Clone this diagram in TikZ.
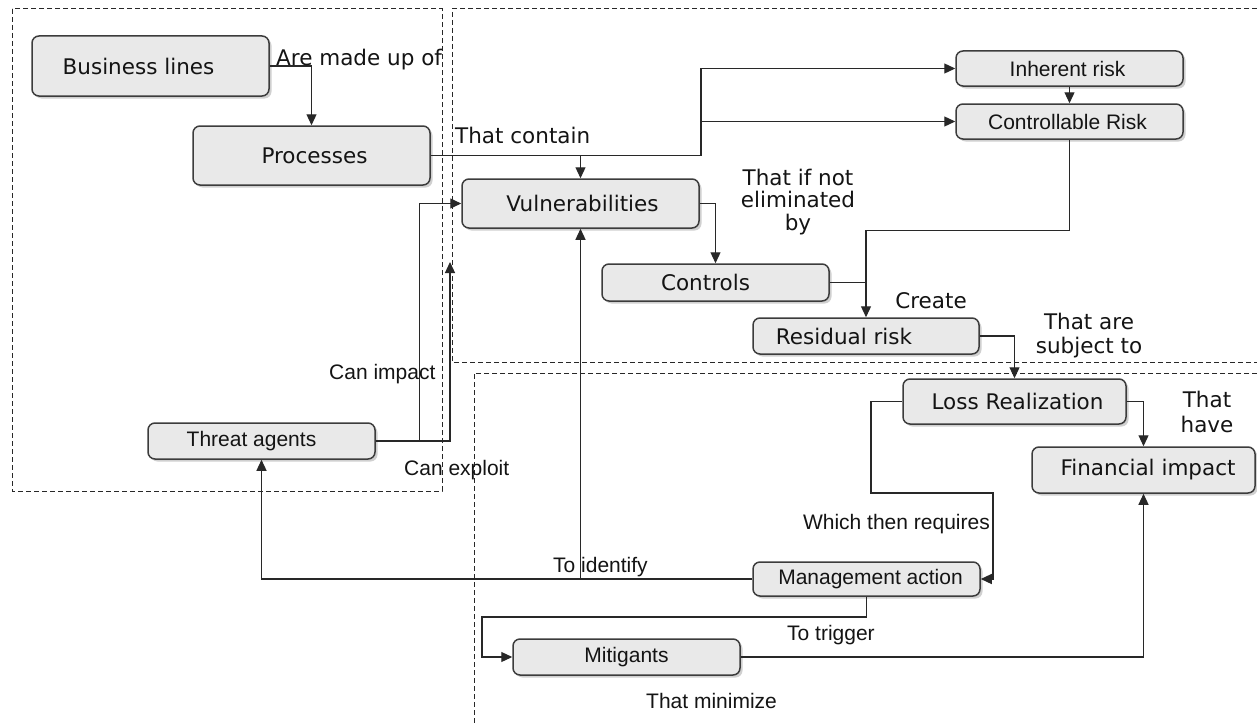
\documentclass[tikz,border=0pt]{standalone}
\usepackage{fontspec}
\setmainfont{DejaVu Sans}
\newfontfamily\thinface{Liberation Sans}
\usetikzlibrary{arrows.meta,shadows}

\definecolor{boxfill}{RGB}{233,233,233}
\definecolor{boxline}{RGB}{60,60,60}
\definecolor{wirec}{RGB}{40,40,40}
\definecolor{ink}{RGB}{20,20,20}

\tikzset{
  box/.style={draw=boxline, line width=1.5pt, fill=boxfill, rounded corners=7pt,
    drop shadow={shadow xshift=2.5pt, shadow yshift=-2.5pt, fill=black!30, opacity=0.6},
    inner sep=0pt},
  heavy/.style={font=\fontsize{21.5}{22.5}\selectfont},
  light/.style={font=\thinface\fontsize{21}{24}\selectfont},
  tag/.style={text=ink, inner sep=0pt},
  wire/.style={draw=wirec, line width=1.2pt},
  arr/.style={wire, -{Triangle[length=11pt,width=10pt]}},
  zone/.style={draw=wirec, line width=1pt, dash pattern=on 5pt off 3pt},
}

\begin{document}
\begin{tikzpicture}[x=1pt, y=-1pt]
\useasboundingbox (0,0) rectangle (1257,725);
\fill[white] (0,0) rectangle (1257,725);

% dashed zones
\begin{scope}
  \clip (0,0) rectangle (1257,725);
  \draw[zone] (12,9) rectangle (442,491);
  \draw[zone] (1265,9) -- (452,9) -- (452,362) -- (1265,362);
  \draw[zone] (1265,373) -- (474,373) -- (474,735);
\end{scope}

% boxes
\node[box, minimum width=237pt, minimum height=60pt,
      label={[tag,heavy,xshift=-12pt]center:Business lines}] (bl) at (150.5,66) {};
\node[box, minimum width=237pt, minimum height=59pt,
      label={[tag,heavy,xshift=3pt]center:Processes}] (pr) at (311.5,155.5) {};
\node[box, minimum width=237pt, minimum height=49pt,
      label={[tag,heavy,xshift=2pt]center:Vulnerabilities}] (vu) at (580.5,203.5) {};
\node[box, minimum width=227pt, minimum height=35pt,
      label={[tag,light,xshift=-2pt]center:Inherent risk}] (ir) at (1069.5,68.5) {};
\node[box, minimum width=227pt, minimum height=35pt,
      label={[tag,light,xshift=-2pt]center:Controllable Risk}] (cr) at (1069.5,121.5) {};
\node[box, minimum width=227pt, minimum height=37pt,
      label={[tag,heavy,xshift=-10pt]center:Controls}] (co) at (715.5,282.5) {};
\node[box, minimum width=226pt, minimum height=36pt,
      label={[tag,heavy,xshift=-22pt]center:Residual risk}] (rr) at (866,336) {};
\node[box, minimum width=223pt, minimum height=45pt,
      label={[tag,heavy,xshift=3pt]center:Loss Realization}] (lr) at (1014.5,401.5) {};
\node[box, minimum width=223pt, minimum height=46pt,
      label={[tag,heavy,xshift=4.5pt]center:Financial impact}] (fi) at (1143.5,470) {};
\node[box, minimum width=227pt, minimum height=36pt,
      label={[tag,light,xshift=-10pt]center:Threat agents}] (ta) at (261.5,441) {};
\node[box, minimum width=227pt, minimum height=34pt,
      label={[tag,light,xshift=4pt]center:Management action}] (ma) at (866.5,579) {};
\node[box, minimum width=227pt, minimum height=36pt,
      label={[tag,light]center:Mitigants}] (mi) at (626.5,657) {};

% connectors
\coordinate (fork) at (701,155.5);
\coordinate (exploit) at (450,262);

\draw[arr] (bl.east) -| (pr.north);
\draw[arr] (pr.east) -| (vu.north);
\draw[arr] (pr.east) -- (fork) |- (ir.west);
\draw[arr] (fork |- cr.west) -- (cr.west);
\draw[arr] (ir.south) -- (cr.north);
\draw[arr] (cr.south) -- ++(0,91) -| (rr.north);
\draw[wire] (co.east) -- (rr.north |- co.east);
\draw[arr] (vu.east) -| (co.north);
\draw[arr] (rr.east) -| (lr.north);
\draw[arr] (lr.east) -| (fi.north);
\draw[arr] (lr.west) -| (871,493) -| (993,579) -- (ma.east);
\draw[arr] (ma.west) -| (ta.south);
\draw[arr] (vu.south |- ma.west) -- (vu.south);
\draw[arr] (ma.south) |- (482,617) |- (mi.west);
\draw[arr] (mi.east) -| (fi.south);
\draw[arr] (ta.east) -- ++(44,0) |- (vu.west);
\draw[arr] (ta.east) -| (exploit);

% connector texts
\node[tag,heavy,anchor=base west] (tMade) at (276,65) {Are made up of};
\node[tag,heavy,anchor=base west] (tContain) at (455,143) {That contain};
\node[tag,heavy,align=center] (tElim) at (798,202) {That if not\\eliminated\\by};
\node[tag,heavy] (tCreate) at (931,300.5) {Create};
\node[tag,heavy,align=center,font=\fontsize{21.5}{24}\selectfont] (tSubj) at (1089,336) {That are\\subject to};
\node[tag,heavy,align=center,font=\fontsize{21.5}{25}\selectfont] (tHave) at (1207,411.5) {That\\have};
\node[tag,light,anchor=base west] (tImpact) at (329,379) {Can impact};
\node[tag,light,anchor=base west] (tExploit) at (404,475) {Can exploit};
\node[tag,light,anchor=base west] (tIdent) at (553,572) {To identify};
\node[tag,light,anchor=base east] (tReq) at (990,529) {Which then requires};
\node[tag,light,anchor=base west] (tTrig) at (787,640) {To trigger};
\node[tag,light,anchor=base west] (tMin) at (646,708) {That minimize};
\end{tikzpicture}
\end{document}
